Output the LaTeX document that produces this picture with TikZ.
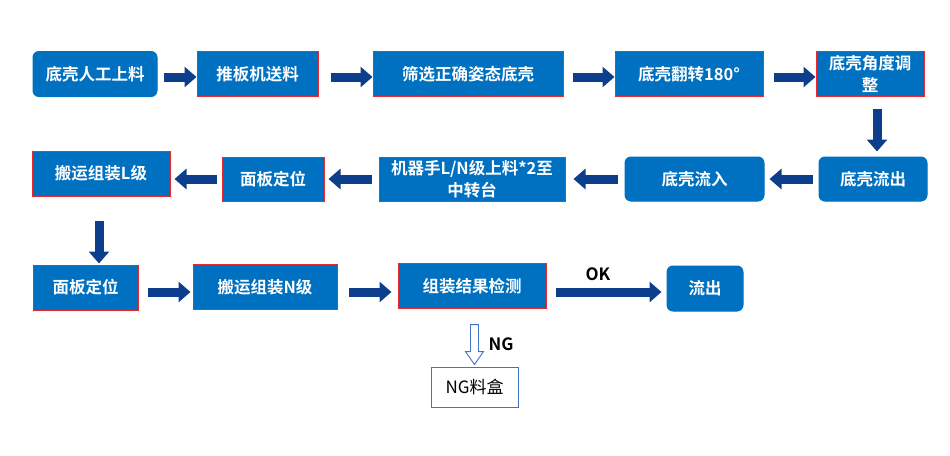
\documentclass[tikz,border=0pt]{standalone}
\usepackage{fontspec}
\setmainfont{Noto Sans CJK SC}[BoldFont={Noto Sans CJK SC Bold}]
\usetikzlibrary{arrows.meta,calc}
\definecolor{boxblue}{RGB}{0,112,192}
\definecolor{arrowblue}{RGB}{12,62,140}
\definecolor{boxred}{RGB}{235,40,45}
\definecolor{outlineblue}{RGB}{68,114,196}
\tikzset{
  stepbox/.style={draw=boxred, line width=1pt, fill=boxblue, text=white,
    font=\bfseries\fontsize{16.5}{22}\selectfont, align=center, inner sep=0pt,
    minimum height=45pt},
  roundbox/.style={stepbox, draw=boxblue, rounded corners=6pt},
  fat/.style={draw=arrowblue, line width=9pt,
    -{Triangle[length=12pt,width=20pt]}},
  hollow/.style={draw=outlineblue, line width=0.9pt, fill=white, line join=miter},
  lbl/.style={font=\bfseries\fontsize{17}{20}\selectfont, text=black, inner sep=0pt},
}
\begin{document}
\begin{tikzpicture}[x=1pt,y=-1pt]
\useasboundingbox (0,0) rectangle (950,455);
% row 1
\node[roundbox, minimum width=124pt] (A1) at (95,74) {底壳人工上料};
\node[stepbox, minimum width=121pt] (A2) at (257.5,74) {推板机送料};
\node[stepbox, minimum width=190pt] (A3) at (468,74) {筛选正确姿态底壳};
\node[stepbox, minimum width=148pt] (A4) at (689,74) {底壳翻转180°};
\node[stepbox, minimum width=108pt] (A5) at (870,73.5) {底壳角度调\\整};
% row 2
\node[roundbox, minimum width=108pt, minimum height=44pt] (B1) at (873,179) {底壳流出};
\node[roundbox, minimum width=139pt, minimum height=44pt] (B2) at (694.5,179) {底壳流入};
\node[stepbox, minimum width=186pt, minimum height=44pt] (B3) at (472,179) {机器手L/N级上料*2至\\中转台};
\node[stepbox, minimum width=102pt, minimum height=44pt] (B4) at (273,179) {面板定位};
\node[stepbox, minimum width=138pt] (B5) at (101,173.5) {搬运组装L级};
% row 3
\node[stepbox, minimum width=105pt] (C1) at (85.5,287.5) {面板定位};
\node[stepbox, minimum width=144pt] (C2) at (265,287) {搬运组装N级};
\node[stepbox, minimum width=148pt] (C3) at (472,286) {组装结果检测};
\node[roundbox, minimum width=76pt] (C4) at (705,288.5) {流出};
\node[draw=outlineblue, line width=0.9pt, fill=white, minimum width=87pt, minimum height=40pt,
  inner sep=0pt, font=\fontsize{17}{20}\selectfont] (D) at (474.5,387) {NG料盒};
% labels
\node[lbl] (OK) at (598,274) {OK};
\node[lbl] (NG) at (501,344) {NG};
% row 1 arrows
\draw[fat, shorten <=6pt] ([yshift=-3pt]A1.east) -- ([yshift=-3pt]A1.east -| A2.west);
\draw[fat, shorten <=12pt] ([yshift=-3pt]A1.east -| A2.east) -- ([yshift=-3pt]A1.east -| A3.west);
\draw[fat, shorten <=9pt] ([yshift=-3pt]A1.east -| A3.east) -- ([yshift=-3pt]A1.east -| A4.west);
\draw[fat, shorten <=10pt] ([yshift=-3pt]A1.east -| A4.east) -- ([yshift=-3pt]A1.east -| A5.west);
\draw[fat, shorten <=12pt, shorten >=5pt] ([xshift=4pt]B1.north |- A5.south) -- ([xshift=4pt]B1.north);
% row 2 arrows
\draw[fat, shorten <=6pt, shorten >=5pt] (B1.west) -- (B2.east);
\draw[fat, shorten <=7pt, shorten >=8pt] (B2.west) -- (B3.east);
\draw[fat, shorten <=7pt, shorten >=4pt] (B3.west) -- (B4.east);
\draw[fat, shorten <=5pt, shorten >=4pt] (B4.west) -- (B4.west -| B5.east);
\draw[fat, shorten <=24pt, shorten >=1pt] ([xshift=-2pt]B5.south) -- ([xshift=-2pt]B5.south |- C1.north);
% row 3 arrows
\draw[fat, shorten <=9pt, shorten >=2pt] ([yshift=-4.5pt]C1.east) -- ([yshift=-4.5pt]C1.east -| C2.west);
\draw[fat, shorten <=11pt, shorten >=6pt] ([yshift=-4.5pt]C1.east -| C2.east) -- ([yshift=-4.5pt]C1.east -| C3.west);
\draw[fat, shorten <=9pt, shorten >=5pt] ([yshift=-4.5pt]C1.east -| C3.east) -- ([yshift=-4.5pt]C1.east -| C4.west);
% NG hollow arrow
\draw[hollow] ($(D.north)+(0,-2)$) -- ++(-9,-13) -- ++(5,0) -- ++(0,-27) -- ++(8,0) -- ++(0,27) -- ++(5,0) -- cycle;
\end{tikzpicture}
\end{document}
